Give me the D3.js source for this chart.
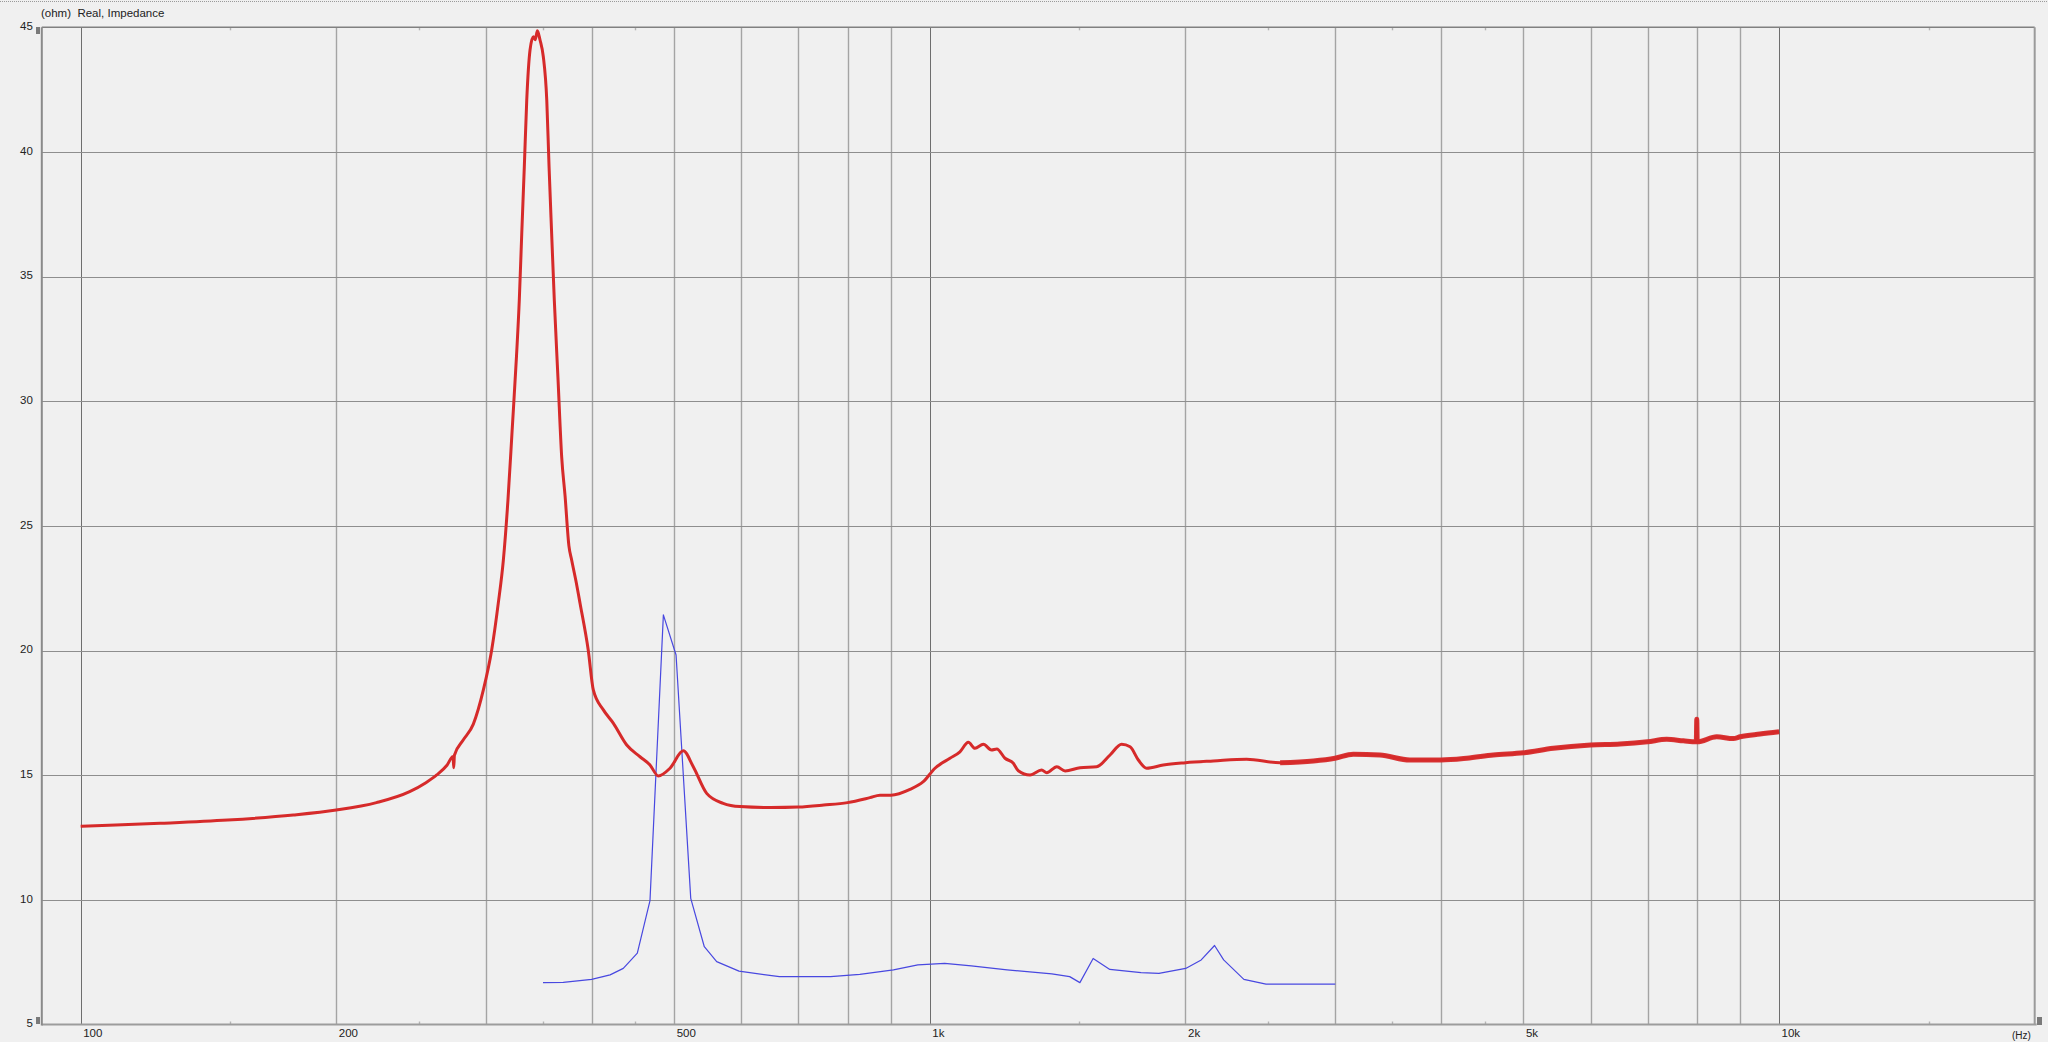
<!DOCTYPE html>
<html>
<head>
<meta charset="utf-8">
<script src="https://cdn.jsdelivr.net/npm/d3@7"></script>
<style>
html,body{margin:0;padding:0;background:#f0f0f0;overflow:hidden;}
svg{display:block;}
text{font-family:"Liberation Sans","DejaVu Sans",sans-serif;}
</style>
</head>
<body>
<svg id="chart" width="2048" height="1042"></svg>
<script>
// ---- data ----
const titleText = "(ohm)  Real, Impedance";
const yTicks = [5, 10, 15, 20, 25, 30, 35, 40, 45];
const xLabelValues = [100, 200, 500, 1000, 2000, 5000, 10000];
const xLabelTexts = ["100", "200", "500", "1k", "2k", "5k", "10k"];
const xGridValues = [100,200,300,400,500,600,700,800,900,1000,2000,3000,4000,5000,6000,7000,8000,9000,10000];
const xMinorTicks = [150,250,350,450,1500,2500,3500,4500,15000];

const redFreq = [100,110,124,149,178,200,223,244,255,262.6,270,274.5,275,275.5,282,290,298,304.8,310.3,314.6,318.5,322.2,326,328.5,330.7,333,335.2,338.2,341.2,343,345,347.5,350.6,353.9,356.1,358.6,361.2,364.9,368.5,371.9,375.8,378.6,383,387.3,396,401.5,412.6,424,439.6,455.7,468.2,478.9,494.3,512.4,526.5,546,571,597.6,650,700,750,800,850,873.5,900,947.5,982.3,1014,1056,1085,1110,1130,1156,1182,1199,1226,1254,1271,1312,1354,1373,1411,1443,1503,1572,1630,1682,1721,1760,1800,1883,2000,2157,2360,2585,2829,3000,3152,3389,3675,4000,4288,4608,5000,5422,6000,6496,7000,7373,7714,7990,8000,8010,8444,8832,9000,9495,10000];
const redOhm = [12.95,13.0,13.07,13.2,13.4,13.6,13.9,14.34,14.7,15.01,15.4,15.75,15.3,15.8,16.4,17.05,18.42,20.02,21.9,23.63,26.0,28.85,31.8,34.06,36.74,39.41,42.08,44.09,44.62,44.5,44.86,44.49,43.82,42.08,39.41,36.74,34.06,30.86,27.77,26.2,24.2,23.63,22.8,21.9,20.02,18.42,17.62,17.08,16.21,15.74,15.41,14.97,15.28,15.98,15.34,14.27,13.87,13.74,13.7,13.72,13.8,13.9,14.1,14.2,14.2,14.43,14.74,15.28,15.68,15.94,16.32,16.08,16.24,16.01,16.05,15.68,15.48,15.18,15.01,15.21,15.1,15.34,15.17,15.3,15.34,15.81,16.24,16.14,15.61,15.28,15.41,15.5,15.57,15.64,15.5,15.57,15.68,15.84,15.81,15.61,15.61,15.68,15.81,15.9,16.08,16.21,16.25,16.34,16.44,16.38,16.34,17.24,16.34,16.54,16.47,16.54,16.65,16.74];

const blueFreq = [350.3,370.1,399.7,420.2,435.5,452.4,468.2,485.5,502.5,522.9,542.5,561,596,665,764,827,906,968,1041,1119,1233,1392,1461,1502,1557,1629,1773,1861,2001,2087,2164,2218,2343,2488,3002];
const blueOhm = [6.68,6.69,6.81,6.99,7.25,7.86,9.97,21.43,19.82,10.06,8.12,7.52,7.14,6.92,6.92,7.01,7.19,7.39,7.45,7.35,7.19,7.03,6.92,6.68,7.65,7.21,7.08,7.05,7.25,7.59,8.17,7.59,6.81,6.62,6.62];

// ---- layout ----
const L = 41.8, R = 2034.7, T = 27.3, B = 1024.5;
const svg = d3.select("#chart");
const x = d3.scaleLog().domain([90, 20000]).range([L, R]);
const y = d3.scaleLinear().domain([5, 45]).range([B, T]);

svg.append("rect").attr("width", 2048).attr("height", 1042).attr("fill", "#f0f0f0");
// top dotted line
svg.append("line").attr("x1", 0).attr("x2", 2048).attr("y1", 1.5).attr("y2", 1.5)
  .attr("stroke", "#9a9a9a").attr("stroke-width", 1).attr("stroke-dasharray", "1,1");

// title
svg.append("text").attr("x", 41).attr("y", 16.5).attr("font-size", 11.5).attr("fill", "#222")
  .style("white-space", "pre").attr("xml:space", "preserve").text(titleText);

// vertical gridlines
svg.append("g").selectAll("line").data(xGridValues).join("line")
  .attr("x1", d => Math.round(x(d)) + 0.5).attr("x2", d => Math.round(x(d)) + 0.5)
  .attr("y1", T).attr("y2", B)
  .attr("stroke", d => [100, 1000, 10000].includes(d) ? "#6e6e6e" : "#a4a4a4")
  .attr("stroke-width", d => [100, 1000, 10000].includes(d) ? 1 : 1.4);

// horizontal gridlines
svg.append("g").selectAll("line").data(yTicks.filter(v => v > 5 && v < 45)).join("line")
  .attr("x1", L).attr("x2", R)
  .attr("y1", d => Math.round(y(d)) + 0.5).attr("y2", d => Math.round(y(d)) + 0.5)
  .attr("stroke", "#8e8e8e").attr("stroke-width", 1.2);

// minor ticks top & bottom
const mt = svg.append("g");
mt.selectAll("line.b").data(xMinorTicks).join("line").attr("class", "b")
  .attr("x1", d => Math.round(x(d)) + 0.5).attr("x2", d => Math.round(x(d)) + 0.5)
  .attr("y1", B - 3).attr("y2", B).attr("stroke", "#b4b4b4").attr("stroke-width", 1.4);
mt.selectAll("line.t").data(xMinorTicks).join("line").attr("class", "t")
  .attr("x1", d => Math.round(x(d)) + 0.5).attr("x2", d => Math.round(x(d)) + 0.5)
  .attr("y1", T).attr("y2", T + 3).attr("stroke", "#b4b4b4").attr("stroke-width", 1.4);

// frame
svg.append("line").attr("x1", L).attr("x2", R).attr("y1", T).attr("y2", T).attr("stroke", "#808080").attr("stroke-width", 1.5);
svg.append("line").attr("x1", R).attr("x2", R).attr("y1", T).attr("y2", B).attr("stroke", "#9a9a9a").attr("stroke-width", 2);
svg.append("line").attr("x1", L).attr("x2", R + 2).attr("y1", B).attr("y2", B).attr("stroke", "#9c9c9c").attr("stroke-width", 2);
svg.append("line").attr("x1", L).attr("x2", L).attr("y1", T).attr("y2", B + 1).attr("stroke", "#8a8a8a").attr("stroke-width", 2);

// end markers
svg.append("rect").attr("x", 36).attr("y", 27).attr("width", 4).attr("height", 7).attr("fill", "#7a7a7a");
svg.append("rect").attr("x", 36).attr("y", 1017).attr("width", 4).attr("height", 7).attr("fill", "#7a7a7a");
svg.append("rect").attr("x", 2037).attr("y", 1017).attr("width", 5).attr("height", 8).attr("fill", "#7a7a7a");

// y axis labels
const yAxis = d3.axisLeft(y).tickValues(yTicks).tickSize(0).tickPadding(0).tickFormat(d3.format("d"));
const gy = svg.append("g").attr("transform", `translate(${L - 9},0)`).call(yAxis);
gy.select(".domain").remove();
gy.selectAll("text").attr("font-size", 11.5).attr("fill", "#222").attr("font-family", "Liberation Sans, DejaVu Sans, sans-serif")
  .attr("dy", "0.2em");

// x axis labels
const xAxis = d3.axisBottom(x).tickValues(xLabelValues).tickSize(0).tickPadding(0)
  .tickFormat((d, i) => xLabelTexts[i]);
const gx = svg.append("g").attr("transform", `translate(0,${B + 4})`).call(xAxis);
gx.select(".domain").remove();
gx.selectAll("text").attr("font-size", 11.5).attr("fill", "#222").attr("text-anchor", "start")
  .attr("font-family", "Liberation Sans, DejaVu Sans, sans-serif").attr("dx", 2).attr("dy", "0.72em");

// (Hz) unit label at bottom right
svg.append("text").attr("x", 2012).attr("y", 1039).attr("font-size", 10).attr("fill", "#222").text("(Hz)");

// series
const redData = redFreq.map((f, i) => [f, redOhm[i]]);
const blueData = blueFreq.map((f, i) => [f, blueOhm[i]]);
const blueLine = d3.line().x(d => x(d[0])).y(d => y(d[1]));
const redLine = d3.line().x(d => x(d[0])).y(d => y(d[1])).curve(d3.curveMonotoneX);

svg.append("path").datum(blueData).attr("d", blueLine).attr("fill", "none")
  .attr("stroke", "#4848e0").attr("stroke-width", 1.2).attr("stroke-linejoin", "round");

svg.append("path").datum(redData).attr("d", redLine).attr("fill", "none")
  .attr("stroke", "#d62a2a").attr("stroke-width", 3).attr("stroke-linejoin", "round");
// thicker noisy band at high frequencies
svg.append("path").datum(redData.filter(d => d[0] >= 2500)).attr("d", redLine).attr("fill", "none")
  .attr("stroke", "#d62a2a").attr("stroke-width", 5).attr("stroke-linejoin", "round").attr("opacity", 0.95);
</script>
</body>
</html>
